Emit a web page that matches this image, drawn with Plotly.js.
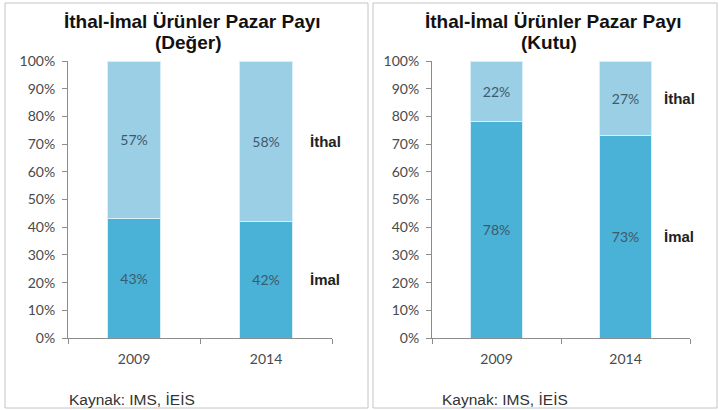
<!DOCTYPE html>
<html><head><meta charset="utf-8">
<script src="https://cdn.plot.ly/plotly-3.0.1.min.js"></script>
<style>html,body{margin:0;padding:0;background:#fff}#c{width:719px;height:410px}</style>
</head><body><div id="c"></div>
<script>
const years = ['2009', '2014'];
const degerImal = [43, 42];
const degerIthal = [57, 58];
const kutuImal = [78, 73];
const kutuIthal = [22, 27];
const titleMain = 'İthal-İmal Ürünler Pazar Payı';
const subLeft = '(Değer)';
const subRight = '(Kutu)';
const labelIthal = 'İthal';
const labelImal = 'İmal';
const sourceText = 'Kaynak: IMS, İEİS';

const cImal = '#4ab1d7';
const cIthal = '#9bcfe6';
const txtFont = {family: 'Lato, "Open Sans", sans-serif', size: 14, color: '#3e5a6b'};

function bar(y, color, xa, ya) {
  return {type: 'bar', x: years, y: y, xaxis: xa, yaxis: ya, width: 0.4,
    marker: {color: color, line: {color: '#d8eef8', width: 1}},
    text: y.map(v => v + '%'), texttemplate: '%{text}', textposition: 'inside', insidetextanchor: 'middle',
    textfont: txtFont, showlegend: false, hoverinfo: 'skip'};
}
const data = [
  bar(degerImal, cImal, 'x', 'y'),
  bar(degerIthal, cIthal, 'x', 'y'),
  bar(kutuImal, cImal, 'x2', 'y2'),
  bar(kutuIthal, cIthal, 'x2', 'y2')
];

const yDom = [1 - 338/410, 1 - 61/410];
const tickF = {family: 'Lato, "Open Sans", sans-serif', size: 14, color: '#4a4a4a'};
function xax(dom, anchor) {
  return {domain: dom, anchor: anchor, type: 'category', showline: true, linecolor: '#8c8c8c',
    ticks: 'outside', tickson: 'boundaries', ticklen: 5, tickcolor: '#8c8c8c',
    ticklabelstandoff: 8, tickfont: tickF, showgrid: false,
    range: [-0.5, 1.5], fixedrange: true};
}
function yax(anchor) {
  return {domain: yDom, anchor: anchor, range: [0, 100], dtick: 10, ticksuffix: '%',
    showline: true, linecolor: '#8c8c8c', ticks: 'outside', ticklen: 5, tickcolor: '#8c8c8c',
    ticklabelstandoff: 4, tickfont: tickF, showgrid: false, zeroline: false, fixedrange: true};
}
const lblFont = {family: '"Liberation Sans", Arial, sans-serif', size: 15, color: '#222'};
function sideLabels(imal, ithal, xref, yref, shift) {
  const i = imal.length - 1;
  return [
    {xref: xref, yref: yref, x: i, y: imal[i] + ithal[i] / 2, text: '<b>' + labelIthal + '</b>',
      showarrow: false, xanchor: 'left', xshift: shift, font: lblFont},
    {xref: xref, yref: yref, x: i, y: imal[i] / 2, text: '<b>' + labelImal + '</b>',
      showarrow: false, xanchor: 'left', xshift: shift, font: lblFont}
  ];
}
const titleFont = {family: '"Liberation Sans", Arial, sans-serif', size: 19, color: '#111'};
const srcFont = {family: '"Liberation Sans", Arial, sans-serif', size: 15.5, color: '#333'};
function titleAnn(cx, sub) {
  return [
    {xref: 'paper', yref: 'paper', x: cx/719, y: 1 - 21/410, yanchor: 'middle', xanchor: 'center',
      showarrow: false, text: '<b>' + titleMain + '</b>', font: titleFont},
    {xref: 'paper', yref: 'paper', x: (cx - 4)/719, y: 1 - 43/410, yanchor: 'middle', xanchor: 'center',
      showarrow: false, text: '<b>' + sub + '</b>', font: titleFont}
  ];
}
const layout = {
  width: 719, height: 410, margin: {l: 0, r: 0, t: 0, b: 0},
  paper_bgcolor: '#fff', plot_bgcolor: '#fff', barmode: 'stack',
  xaxis: xax([68/719, 332/719], 'y'),
  yaxis: yax('x'),
  xaxis2: xax([432/719, 690/719], 'y2'),
  yaxis2: yax('x2'),
  annotations: [
    {xref: 'paper', yref: 'paper', x: 67/719, y: 1 - 399/410, yanchor: 'middle', xanchor: 'left',
      showarrow: false, text: sourceText, font: srcFont},
    {xref: 'paper', yref: 'paper', x: 440/719, y: 1 - 399/410, yanchor: 'middle', xanchor: 'left',
      showarrow: false, text: sourceText, font: srcFont}
  ].concat(titleAnn(192, subLeft)).concat(titleAnn(553, subRight))
   .concat(sideLabels(degerImal, degerIthal, 'x', 'y', 42))
   .concat(sideLabels(kutuImal, kutuIthal, 'x2', 'y2', 36)),
  shapes: [
    {type: 'rect', xref: 'paper', yref: 'paper', x0: 5/719, x1: 368/719, y0: 1 - 408/410, y1: 1 - 3/410,
      line: {color: '#c4c4c4', width: 1}},
    {type: 'rect', xref: 'paper', yref: 'paper', x0: 373/719, x1: 717/719, y0: 1 - 408/410, y1: 1 - 3/410,
      line: {color: '#c4c4c4', width: 1}}
  ]
};
Plotly.newPlot('c', data, layout, {staticPlot: true, displayModeBar: false});
</script></body></html>
